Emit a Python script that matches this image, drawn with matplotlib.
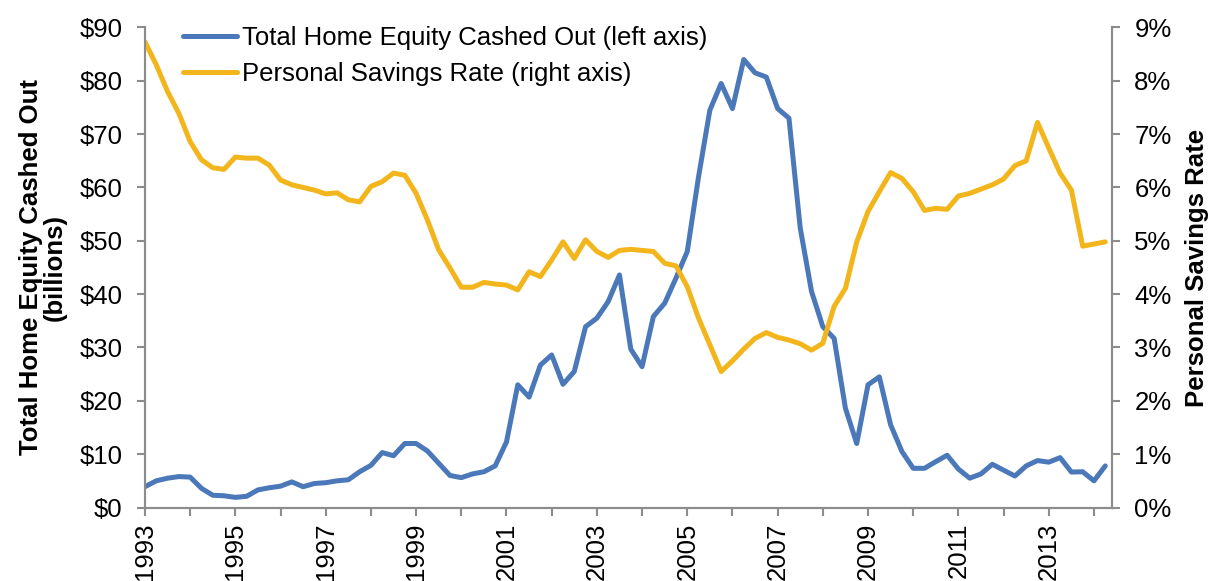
import numpy as np
import matplotlib
matplotlib.use('Agg')
import matplotlib.pyplot as plt
from matplotlib.ticker import FuncFormatter

plt.rcParams['font.family'] = ['Liberation Sans', 'DejaVu Sans']

#%% data, quarterly 1993Q1 - 2014Q2
start_year = 1993
equity_cashed = [3.9, 5.0, 5.5, 5.8, 5.7, 3.6, 2.3, 2.2, 1.9, 2.1,
                 3.3, 3.7, 4.0, 4.8, 3.9, 4.5, 4.65, 5.0, 5.2, 6.7,
                 7.9, 10.3, 9.7, 12.0, 12.0, 10.6, 8.3, 6.0, 5.6, 6.3,
                 6.7, 7.8, 12.3, 23.0, 20.7, 26.7, 28.6, 23.1, 25.5, 33.9,
                 35.5, 38.6, 43.6, 29.7, 26.4, 35.8, 38.3, 43.0, 48.0, 62.0,
                 74.5, 79.5, 74.8, 84.0, 81.5, 80.7, 74.8, 73.0, 52.4, 40.5,
                 33.9, 31.7, 18.6, 12.0, 23.0, 24.5, 15.5, 10.5, 7.35, 7.35,
                 8.6, 9.8, 7.2, 5.5, 6.3, 8.1, 7.0, 5.9, 7.8, 8.8,
                 8.5, 9.35, 6.65, 6.7, 5.0, 7.8]
savings_rate = [8.73, 8.30, 7.80, 7.39, 6.86, 6.52, 6.37, 6.34, 6.57, 6.55,
                6.55, 6.42, 6.14, 6.05, 6.00, 5.95, 5.88, 5.90, 5.77, 5.73,
                6.02, 6.11, 6.27, 6.23, 5.89, 5.39, 4.83, 4.49, 4.13, 4.13,
                4.22, 4.19, 4.17, 4.08, 4.42, 4.33, 4.64, 4.98, 4.67, 5.02,
                4.80, 4.69, 4.82, 4.84, 4.82, 4.80, 4.58, 4.53, 4.14, 3.55,
                3.05, 2.55, 2.75, 2.97, 3.17, 3.28, 3.19, 3.14, 3.07, 2.95,
                3.08, 3.77, 4.11, 4.98, 5.55, 5.92, 6.28, 6.17, 5.92, 5.57,
                5.61, 5.59, 5.84, 5.89, 5.97, 6.05, 6.16, 6.41, 6.50, 7.22,
                6.74, 6.27, 5.95, 4.90, 4.94, 4.98]
year_ticks = list(range(1993, 2015))
year_labels = [str(y) if (y - 1993) % 2 == 0 else '' for y in year_ticks]

t = start_year + np.arange(len(equity_cashed)) / 4.0

blue = '#4A78B9'
gold = '#F2B51B'
grey = '#8C8C8C'
fs = 18.5

#%% plot
fig = plt.figure(figsize=(12.11, 5.81), dpi=100)
ax = fig.add_axes([0.1197, 0.1265, 0.7986, 0.8262])
ax2 = ax.twinx()

l1, = ax.plot(t, equity_cashed, color=blue, lw=3.6, solid_capstyle='round',
              solid_joinstyle='round', label='Total Home Equity Cashed Out (left axis)')
l2, = ax2.plot(t, savings_rate, color=gold, lw=3.6, solid_capstyle='round',
               solid_joinstyle='round', label='Personal Savings Rate (right axis)')

ax.set_xlim(1993, 2014.4)
ax.set_ylim(0, 90)
ax2.set_ylim(0, 9)
ax.set_yticks(np.arange(0, 91, 10))
ax2.set_yticks(np.arange(0, 10, 1))
ax.yaxis.set_major_formatter(FuncFormatter(lambda v, p: '$%d' % v))
ax2.yaxis.set_major_formatter(FuncFormatter(lambda v, p: '%d%%' % v))
ax.set_xticks(year_ticks)
ax.set_xticklabels(year_labels, rotation=90)

for a in (ax, ax2):
    a.spines['top'].set_visible(False)
    for s in ('left', 'right', 'bottom'):
        a.spines[s].set_color(grey)
        a.spines[s].set_linewidth(1.5)
    a.tick_params(axis='both', direction='out', color=grey, width=1.5,
                  length=6, labelsize=fs, pad=10)
ax.tick_params(axis='x', pad=5)

ax.set_ylabel('Total Home Equity Cashed Out\n(billions)', fontsize=fs,
              fontweight='bold', linespacing=1.0)
ax.yaxis.set_label_coords(-0.081, 0.5)
ax2.set_ylabel('Personal Savings Rate', fontsize=fs, fontweight='bold')
ax2.yaxis.set_label_coords(1.075, 0.5)

leg = ax.legend(handles=[l1, l2], loc='upper left',
                bbox_to_anchor=(183 / 1211, 1 - 26 / 581), bbox_transform=fig.transFigure,
                frameon=False, fontsize=fs, handlelength=2.1, handletextpad=0.2,
                labelspacing=0.45, borderaxespad=0, borderpad=0)

fig.savefig('out.png', dpi=100)
